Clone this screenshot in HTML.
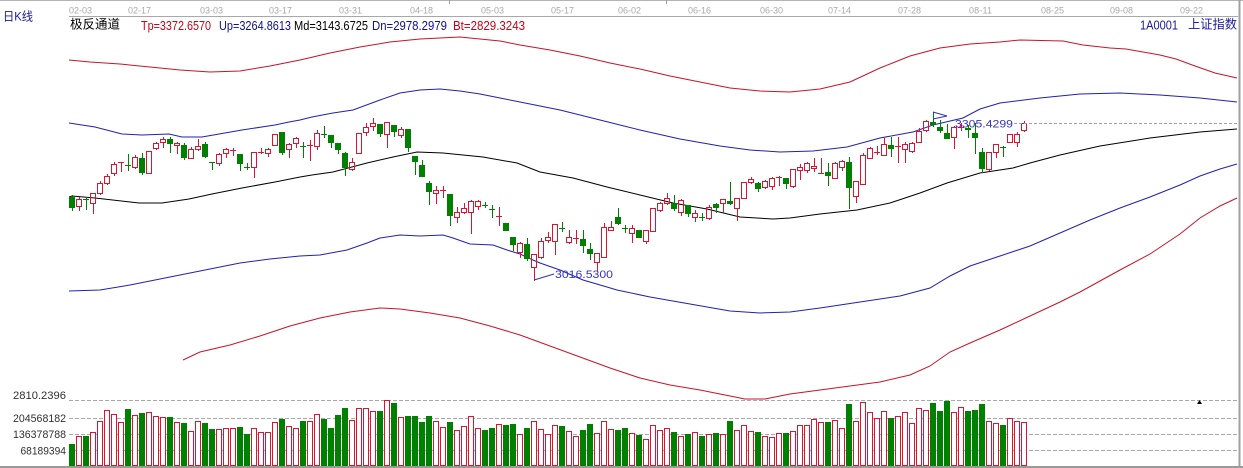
<!DOCTYPE html>
<html><head><meta charset="utf-8"><style>
html,body{margin:0;padding:0;background:#fff;}
svg{display:block;}
.r{fill:none;stroke:#dc1430;stroke-width:1;}
.g{fill:none;stroke:#008000;stroke-width:1;}
.gb{fill:#008000;}
.rv{fill:#fff;stroke:#dc1430;stroke-width:1;}
.gv{fill:#008000;}
.ln{fill:none;stroke-width:1;}
text{font-family:"Liberation Sans","Noto Sans CJK SC",sans-serif;}
</style></head><body>
<svg width="1243" height="468" viewBox="0 0 1243 468" xmlns="http://www.w3.org/2000/svg">
<defs><clipPath id="pc"><rect x="69" y="17" width="1169" height="383"/></clipPath></defs>
<rect x="0" y="0" width="1243" height="468" fill="#fff"/>
<line x1="0" y1="0.5" x2="1243" y2="0.5" stroke="#b4b4b4"/>
<line x1="449.5" y1="0" x2="449.5" y2="4" stroke="#a0a0a0"/>
<line x1="666.5" y1="0" x2="666.5" y2="4" stroke="#a0a0a0"/>
<line x1="69" y1="16.5" x2="1238" y2="16.5" stroke="#a8a8a8"/>
<rect x="1238.5" y="0" width="2" height="468" fill="#a0a0a0"/>
<rect x="0" y="466" width="1243" height="2" fill="#9a9a9a"/>

<g font-size="9" fill="#a8a8a8">
<text x="69" y="13.5" textLength="23">02-03</text>
<text x="128" y="13.5" textLength="23">02-17</text>
<text x="200" y="13.5" textLength="23">03-03</text>
<text x="269" y="13.5" textLength="23">03-17</text>
<text x="339" y="13.5" textLength="23">03-31</text>
<text x="410" y="13.5" textLength="23">04-18</text>
<text x="481" y="13.5" textLength="23">05-03</text>
<text x="551" y="13.5" textLength="23">05-17</text>
<text x="618" y="13.5" textLength="23">06-02</text>
<text x="688" y="13.5" textLength="23">06-16</text>
<text x="760" y="13.5" textLength="23">06-30</text>
<text x="828" y="13.5" textLength="23">07-14</text>
<text x="898" y="13.5" textLength="23">07-28</text>
<text x="969" y="13.5" textLength="23">08-11</text>
<text x="1041" y="13.5" textLength="23">08-25</text>
<text x="1110" y="13.5" textLength="23">09-08</text>
<text x="1180" y="13.5" textLength="23">09-22</text>
</g>

<text x="3" y="20.5" font-size="12" fill="#1818a0" textLength="30" lengthAdjust="spacingAndGlyphs">日K线</text>
<text x="70" y="28.5" font-size="12.5" fill="#000" textLength="50" lengthAdjust="spacingAndGlyphs">极反通道</text>
<g font-size="12.5">
<text x="141" y="30" fill="#c80018" textLength="70" lengthAdjust="spacingAndGlyphs">Tp=3372.6570</text>
<text x="219" y="30" fill="#101090" textLength="72" lengthAdjust="spacingAndGlyphs">Up=3264.8613</text>
<text x="294" y="30" fill="#000" textLength="74" lengthAdjust="spacingAndGlyphs">Md=3143.6725</text>
<text x="372" y="30" fill="#101090" textLength="75" lengthAdjust="spacingAndGlyphs">Dn=2978.2979</text>
<text x="453" y="30" fill="#c80018" textLength="72" lengthAdjust="spacingAndGlyphs">Bt=2829.3243</text>
</g>
<text x="1140" y="29.5" font-size="12.5" fill="#1818a0" textLength="38" lengthAdjust="spacingAndGlyphs">1A0001</text>
<text x="1188" y="28.5" font-size="12.5" fill="#1818a0" textLength="49" lengthAdjust="spacingAndGlyphs">上证指数</text>

<!-- volume grid -->
<g stroke="#a8a8a8" stroke-dasharray="4 2">
<line x1="69" y1="400.5" x2="1238" y2="400.5"/>
<line x1="69" y1="418.5" x2="1238" y2="418.5"/>
<line x1="69" y1="434.5" x2="1238" y2="434.5"/>
<line x1="69" y1="450.5" x2="1238" y2="450.5"/>
</g>
<g font-size="11" fill="#303030">
<text x="13" y="399" textLength="53" lengthAdjust="spacingAndGlyphs">2810.2396</text>
<text x="13" y="422" textLength="53" lengthAdjust="spacingAndGlyphs">204568182</text>
<text x="13" y="438" textLength="53" lengthAdjust="spacingAndGlyphs">136378788</text>
<text x="20.5" y="454.5" textLength="45.5" lengthAdjust="spacingAndGlyphs">68189394</text>
</g>
<polygon points="1197,404 1202,404 1199.5,400" fill="#000"/>

<!-- channel lines -->
<g clip-path="url(#pc)">
<polyline class="ln" stroke="#c81428" points="69,60 90,62 120,64 150,67 180,70 210,72 240,71 270,66 300,60 330,53 360,47 390,42 420,39 440,38 460,37 480,39 500,41 520,45 550,50 580,56 610,63 640,69 670,76 700,82 730,88 760,91 790,92 820,89 850,82 880,68 910,56 940,48 970,44 1000,42 1020,40 1063,41 1083,45 1110,48 1126,49 1143,52 1160,55 1176,59 1195,66 1215,73 1237,78"/>
<polyline class="ln" stroke="#2020b4" points="69,123 95,127 122,134 142,135 169,134 182,137 202,137 242,130 275,125 289,122 300,120 312,117 333,113 353,110 380,100 400,93 420,90 440,89 460,91 480,94 500,98 530,104 560,110 600,120 640,130 680,139 720,146 750,150 780,152 813,151 847,147 880,138 913,132 933,125 963,118 980,109 1000,103 1040,98 1080,94 1120,93 1160,95 1200,98 1237,102"/>
<polyline class="ln" stroke="#000" points="69,197 72,196 95,198 139,203 162,203 189,199 212,194 242,188 275,182 300,177 312,175 333,172 367,163 393,157 417,152 443,153 483,157 517,163 540,172 573,178 607,187 640,195 673,203 707,209 740,217 773,219 790,218 820,214 857,210 890,203 920,193 947,183 980,173 1013,168 1030,163 1060,155 1100,146 1150,138 1200,132 1237,129"/>
<polyline class="ln" stroke="#2020b4" points="69,291 100,290 130,285 160,279 200,271 240,263 270,259 300,256 320,255 347,250 367,243 380,238 400,235 420,236 443,235 453,238 470,244 493,245 507,250 520,254 533,260 540,263 560,270 583,280 607,287 617,290 650,297 690,304 730,311 760,313 790,312 820,308 860,302 900,296 930,288 950,276 970,266 1000,256 1030,246 1060,233 1090,220 1120,208 1150,197 1180,185 1200,176 1220,169 1237,164"/>
<polyline class="ln" stroke="#c81428" points="183,360 200,352 230,345 260,336 290,326 320,318 350,312 380,308 400,309 430,313 460,318 490,326 520,335 550,346 580,357 610,368 640,378 670,385 700,390 730,396 745,399 765,399 790,394 820,390 850,386 880,382 910,375 930,366 950,352 970,343 1000,330 1030,316 1060,302 1080,292 1100,281 1120,270 1150,254 1180,234 1200,218 1220,206 1237,198"/>
</g>

<!-- candles -->
<g shape-rendering="crispEdges">
<g transform="translate(69 0)"><path class="g" d="M3.5 195V211"/><rect class="gb" y="197" width="6" height="11"/></g>
<path class="r" transform="translate(76 0)" d="M3.5 197V199M3.5 207V211M.5 199.5h5v7h-5z"/>
<path class="g" transform="translate(83 0)" d="M3.5 197V210M0 199.5h6"/>
<path class="r" transform="translate(90 0)" d="M3.5 204V214M.5 193.5h5v10h-5z"/>
<path class="r" transform="translate(97 0)" d="M3.5 181V183M3.5 194V195M.5 183.5h5v10h-5z"/>
<path class="r" transform="translate(104 0)" d="M3.5 174V176M3.5 184V185M.5 176.5h5v7h-5z"/>
<path class="r" transform="translate(111 0)" d="M3.5 162V164M3.5 174V176M.5 164.5h5v9h-5z"/>
<path class="r" transform="translate(118 0)" d="M3.5 162V172M0 162.5h6"/>
<path class="g" transform="translate(125 0)" d="M3.5 154V171M0 165.5h6"/>
<path class="r" transform="translate(132 0)" d="M3.5 155V157M3.5 168V169M.5 157.5h5v10h-5z"/>
<g transform="translate(139 0)"><path class="g" d="M3.5 153V175"/><rect class="gb" y="158" width="6" height="15"/></g>
<path class="r" transform="translate(146 0)" d="M.5 151.5h5v22h-5z"/>
<path class="r" transform="translate(153 0)" d="M3.5 142V143M3.5 149V150M.5 143.5h5v5h-5z"/>
<path class="r" transform="translate(160 0)" d="M3.5 137V139M3.5 143V148M.5 139.5h5v3h-5z"/>
<g transform="translate(167 0)"><path class="g" d="M3.5 137V153"/><rect class="gb" y="139" width="6" height="5"/></g>
<path class="r" transform="translate(174 0)" d="M3.5 142V143M3.5 146V154M.5 143.5h5v2h-5z"/>
<g transform="translate(181 0)"><path class="g" d="M3.5 143V160"/><rect class="gb" y="145" width="6" height="13"/></g>
<path class="r" transform="translate(188 0)" d="M3.5 147V149M.5 149.5h5v9h-5z"/>
<path class="r" transform="translate(195 0)" d="M3.5 139V146M3.5 150V151M.5 146.5h5v3h-5z"/>
<g transform="translate(202 0)"><path class="g" d="M3.5 142V158"/><rect class="gb" y="144" width="6" height="13"/></g>
<path class="g" transform="translate(209 0)" d="M3.5 162V170M0 162.5h6"/>
<path class="r" transform="translate(216 0)" d="M3.5 153V154M3.5 164V166M.5 154.5h5v9h-5z"/>
<path class="r" transform="translate(223 0)" d="M3.5 148V149M3.5 154V158M.5 149.5h5v4h-5z"/>
<path class="r" transform="translate(230 0)" d="M3.5 148V156M0 150.5h6"/>
<g transform="translate(237 0)"><path class="g" d="M3.5 154V171"/><rect class="gb" y="154" width="6" height="10"/></g>
<path class="g" transform="translate(244 0)" d="M3.5 163V170M0 167.5h6"/>
<path class="r" transform="translate(251 0)" d="M3.5 168V178M.5 152.5h5v15h-5z"/>
<path class="r" transform="translate(258 0)" d="M3.5 148V154M0 152.5h6"/>
<path class="r" transform="translate(265 0)" d="M3.5 148V149M3.5 154V157M.5 149.5h5v4h-5z"/>
<path class="r" transform="translate(272 0)" d="M.5 134.5h5v11h-5z"/>
<g transform="translate(279 0)"><path class="g" d="M3.5 132V155"/><rect class="gb" y="132" width="6" height="21"/></g>
<path class="r" transform="translate(286 0)" d="M3.5 143V144M3.5 150V158M.5 144.5h5v5h-5z"/>
<path class="r" transform="translate(293 0)" d="M3.5 137V138M3.5 144V148M.5 138.5h5v5h-5z"/>
<path class="g" transform="translate(300 0)" d="M3.5 142V158M0 146.5h6"/>
<path class="r" transform="translate(307 0)" d="M3.5 140V161M0 145.5h6"/>
<path class="r" transform="translate(314 0)" d="M3.5 130V133M3.5 147V150M.5 133.5h5v13h-5z"/>
<path class="g" transform="translate(321 0)" d="M3.5 126V138M0 134.5h6"/>
<g transform="translate(328 0)"><path class="g" d="M3.5 135V148"/><rect class="gb" y="135" width="6" height="8"/></g>
<g transform="translate(335 0)"><path class="g" d="M3.5 143V154"/><rect class="gb" y="143" width="6" height="7"/></g>
<g transform="translate(342 0)"><path class="g" d="M3.5 152V176"/><rect class="gb" y="153" width="6" height="15"/></g>
<path class="r" transform="translate(349 0)" d="M3.5 158V162M3.5 170V171M.5 162.5h5v7h-5z"/>
<path class="r" transform="translate(356 0)" d="M.5 133.5h5v20h-5z"/>
<path class="r" transform="translate(363 0)" d="M3.5 123V127M3.5 133V136M.5 127.5h5v5h-5z"/>
<path class="r" transform="translate(370 0)" d="M3.5 118V123M3.5 127V131M.5 123.5h5v3h-5z"/>
<g transform="translate(377 0)"><path class="g" d="M3.5 124V137"/><rect class="gb" y="124" width="6" height="10"/></g>
<path class="r" transform="translate(384 0)" d="M3.5 135V148M.5 122.5h5v12h-5z"/>
<g transform="translate(391 0)"><path class="g" d="M3.5 125V137"/><rect class="gb" y="125" width="6" height="7"/></g>
<path class="r" transform="translate(398 0)" d="M3.5 127V129M3.5 136V138M.5 129.5h5v6h-5z"/>
<g transform="translate(405 0)"><path class="g" d="M3.5 129V152"/><rect class="gb" y="129" width="6" height="19"/></g>
<g transform="translate(412 0)"><path class="g" d="M3.5 156V175"/><rect class="gb" y="156" width="6" height="6"/></g>
<g transform="translate(419 0)"><path class="g" d="M3.5 160V177"/><rect class="gb" y="165" width="6" height="12"/></g>
<g transform="translate(426 0)"><path class="g" d="M3.5 181V205"/><rect class="gb" y="183" width="6" height="9"/></g>
<path class="r" transform="translate(433 0)" d="M3.5 186V190M3.5 194V204M.5 190.5h5v3h-5z"/>
<path class="r" transform="translate(440 0)" d="M3.5 186V198M0 190.5h6"/>
<g transform="translate(447 0)"><path class="g" d="M3.5 194V226"/><rect class="gb" y="194" width="6" height="22"/></g>
<path class="r" transform="translate(454 0)" d="M3.5 207V212M3.5 218V223M.5 212.5h5v5h-5z"/>
<path class="r" transform="translate(461 0)" d="M3.5 203V208M3.5 213V214M.5 208.5h5v4h-5z"/>
<path class="r" transform="translate(468 0)" d="M3.5 200V201M3.5 213V234M.5 201.5h5v11h-5z"/>
<path class="r" transform="translate(475 0)" d="M3.5 200V201M3.5 207V210M.5 201.5h5v5h-5z"/>
<path class="g" transform="translate(482 0)" d="M3.5 202V208M0 205.5h6"/>
<path class="g" transform="translate(489 0)" d="M3.5 205V218M0 209.5h6"/>
<path class="r" transform="translate(496 0)" d="M3.5 207V226M0 216.5h6"/>
<g transform="translate(503 0)"><path class="g" d="M3.5 223V231"/><rect class="gb" y="223" width="6" height="8"/></g>
<g transform="translate(510 0)"><path class="g" d="M3.5 237V251"/><rect class="gb" y="237" width="6" height="8"/></g>
<path class="r" transform="translate(517 0)" d="M3.5 242V243M3.5 253V258M.5 243.5h5v9h-5z"/>
<g transform="translate(524 0)"><path class="g" d="M3.5 238V261"/><rect class="gb" y="244" width="6" height="15"/></g>
<path class="r" transform="translate(531 0)" d="M3.5 268V281M.5 254.5h5v13h-5z"/>
<path class="r" transform="translate(538 0)" d="M3.5 238V241M3.5 258V259M.5 241.5h5v16h-5z"/>
<path class="r" transform="translate(545 0)" d="M3.5 232V237M3.5 241V243M.5 237.5h5v3h-5z"/>
<path class="r" transform="translate(552 0)" d="M3.5 242V255M.5 224.5h5v17h-5z"/>
<path class="g" transform="translate(559 0)" d="M3.5 222V232M0 228.5h6"/>
<path class="r" transform="translate(566 0)" d="M3.5 230V237M3.5 243V244M.5 237.5h5v5h-5z"/>
<path class="r" transform="translate(573 0)" d="M3.5 230V244M0 238.5h6"/>
<g transform="translate(580 0)"><path class="g" d="M3.5 230V253"/><rect class="gb" y="239" width="6" height="7"/></g>
<g transform="translate(587 0)"><path class="g" d="M3.5 243V260"/><rect class="gb" y="249" width="6" height="5"/></g>
<path class="r" transform="translate(594 0)" d="M3.5 263V271M.5 253.5h5v9h-5z"/>
<path class="r" transform="translate(601 0)" d="M3.5 223V227M.5 227.5h5v30h-5z"/>
<path class="r" transform="translate(608 0)" d="M3.5 221V227M.5 227.5h5v3h-5z"/>
<g transform="translate(615 0)"><path class="g" d="M3.5 208V225"/><rect class="gb" y="217" width="6" height="7"/></g>
<path class="g" transform="translate(622 0)" d="M3.5 225V233M0 228.5h6"/>
<path class="r" transform="translate(629 0)" d="M3.5 225V228M3.5 234V243M.5 228.5h5v5h-5z"/>
<g transform="translate(636 0)"><path class="g" d="M3.5 230V238"/><rect class="gb" y="230" width="6" height="8"/></g>
<path class="r" transform="translate(643 0)" d="M3.5 242V244M.5 230.5h5v11h-5z"/>
<path class="r" transform="translate(650 0)" d="M.5 208.5h5v23h-5z"/>
<path class="r" transform="translate(657 0)" d="M3.5 202V203M3.5 211V212M.5 203.5h5v7h-5z"/>
<path class="r" transform="translate(664 0)" d="M3.5 193V198M3.5 204V205M.5 198.5h5v5h-5z"/>
<g transform="translate(671 0)"><path class="g" d="M3.5 195V211"/><rect class="gb" y="203" width="6" height="6"/></g>
<path class="r" transform="translate(678 0)" d="M3.5 199V200M3.5 213V216M.5 200.5h5v12h-5z"/>
<g transform="translate(685 0)"><path class="g" d="M3.5 205V217"/><rect class="gb" y="205" width="6" height="9"/></g>
<path class="r" transform="translate(692 0)" d="M3.5 210V213M3.5 218V222M.5 213.5h5v4h-5z"/>
<path class="g" transform="translate(699 0)" d="M3.5 213V221M0 217.5h6"/>
<path class="r" transform="translate(706 0)" d="M3.5 205V207M3.5 219V220M.5 207.5h5v11h-5z"/>
<g transform="translate(713 0)"><path class="g" d="M3.5 203V213"/><rect class="gb" y="204" width="6" height="4"/></g>
<path class="r" transform="translate(720 0)" d="M3.5 204V213M.5 199.5h5v4h-5z"/>
<g transform="translate(727 0)"><path class="g" d="M3.5 182V205"/><rect class="gb" y="201" width="6" height="3"/></g>
<path class="r" transform="translate(734 0)" d="M3.5 209V221M.5 198.5h5v10h-5z"/>
<path class="r" transform="translate(741 0)" d="M.5 182.5h5v16h-5z"/>
<path class="r" transform="translate(748 0)" d="M3.5 177V179M3.5 183V184M.5 179.5h5v3h-5z"/>
<g transform="translate(755 0)"><path class="g" d="M3.5 182V192"/><rect class="gb" y="183" width="6" height="6"/></g>
<path class="r" transform="translate(762 0)" d="M3.5 180V181M3.5 188V189M.5 181.5h5v6h-5z"/>
<path class="r" transform="translate(769 0)" d="M3.5 177V178M3.5 187V190M.5 178.5h5v8h-5z"/>
<path class="r" transform="translate(776 0)" d="M3.5 176V186M0 177.5h6"/>
<g transform="translate(783 0)"><path class="g" d="M3.5 178V189"/><rect class="gb" y="178" width="6" height="6"/></g>
<path class="r" transform="translate(790 0)" d="M3.5 187V188M.5 169.5h5v17h-5z"/>
<path class="r" transform="translate(797 0)" d="M3.5 164V167M3.5 171V180M.5 167.5h5v3h-5z"/>
<path class="r" transform="translate(804 0)" d="M3.5 162V163M3.5 171V173M.5 163.5h5v7h-5z"/>
<path class="r" transform="translate(811 0)" d="M3.5 158V166M3.5 169V172M.5 166.5h5v2h-5z"/>
<path class="r" transform="translate(818 0)" d="M3.5 158V174M0 173.5h6"/>
<g transform="translate(825 0)"><path class="g" d="M3.5 163V186"/><rect class="gb" y="172" width="6" height="4"/></g>
<path class="r" transform="translate(832 0)" d="M3.5 162V163M.5 163.5h5v15h-5z"/>
<path class="r" transform="translate(839 0)" d="M3.5 160V161M3.5 168V171M.5 161.5h5v6h-5z"/>
<g transform="translate(846 0)"><path class="g" d="M3.5 157V209"/><rect class="gb" y="162" width="6" height="26"/></g>
<path class="r" transform="translate(853 0)" d="M3.5 197V203M.5 181.5h5v15h-5z"/>
<path class="r" transform="translate(860 0)" d="M3.5 153V155M.5 155.5h5v29h-5z"/>
<path class="r" transform="translate(867 0)" d="M3.5 147V148M.5 148.5h5v10h-5z"/>
<path class="r" transform="translate(874 0)" d="M3.5 146V155M0 152.5h6"/>
<path class="r" transform="translate(881 0)" d="M3.5 138V144M.5 144.5h5v11h-5z"/>
<g transform="translate(888 0)"><path class="g" d="M3.5 137V157"/><rect class="gb" y="145" width="6" height="4"/></g>
<path class="r" transform="translate(895 0)" d="M3.5 137V163M0 146.5h6"/>
<path class="r" transform="translate(902 0)" d="M3.5 142V144M3.5 150V163M.5 144.5h5v5h-5z"/>
<path class="r" transform="translate(909 0)" d="M3.5 142V143M3.5 152V153M.5 143.5h5v8h-5z"/>
<path class="r" transform="translate(916 0)" d="M3.5 128V131M.5 131.5h5v11h-5z"/>
<path class="r" transform="translate(923 0)" d="M3.5 120V121M3.5 131V132M.5 121.5h5v9h-5z"/>
<g transform="translate(930 0)"><path class="g" d="M3.5 112V127"/><rect class="gb" y="122" width="6" height="3"/></g>
<g transform="translate(937 0)"><path class="g" d="M3.5 120V133"/><rect class="gb" y="127" width="6" height="4"/></g>
<g transform="translate(944 0)"><path class="g" d="M3.5 124V139"/><rect class="gb" y="133" width="6" height="6"/></g>
<path class="r" transform="translate(951 0)" d="M3.5 126V127M3.5 138V149M.5 127.5h5v10h-5z"/>
<path class="r" transform="translate(958 0)" d="M3.5 123V131M0 127.5h6"/>
<g transform="translate(965 0)"><path class="g" d="M3.5 125V138"/><rect class="gb" y="128" width="6" height="2"/></g>
<g transform="translate(972 0)"><path class="g" d="M3.5 123V154"/><rect class="gb" y="133" width="6" height="5"/></g>
<g transform="translate(979 0)"><path class="g" d="M3.5 148V173"/><rect class="gb" y="152" width="6" height="17"/></g>
<path class="r" transform="translate(986 0)" d="M3.5 170V171M.5 152.5h5v17h-5z"/>
<path class="r" transform="translate(993 0)" d="M3.5 153V158M.5 144.5h5v8h-5z"/>
<path class="g" transform="translate(1000 0)" d="M3.5 146V157M0 147.5h6"/>
<path class="r" transform="translate(1007 0)" d="M.5 134.5h5v8h-5z"/>
<path class="r" transform="translate(1014 0)" d="M3.5 132V134M3.5 143V147M.5 134.5h5v8h-5z"/>
<path class="r" transform="translate(1021 0)" d="M3.5 121V123M3.5 131V132M.5 123.5h5v7h-5z"/>
</g>

<!-- markers -->
<polyline class="ln" stroke="#3030c0" points="933,112 947,116 933,119"/>
<line x1="1014" y1="123.5" x2="1237" y2="123.5" stroke="#a0a0a0" stroke-dasharray="3 2"/>
<text x="955" y="127.5" font-size="11" fill="#3434c4" textLength="58" lengthAdjust="spacingAndGlyphs">3305.4299</text>
<polyline class="ln" stroke="#3030c0" points="534,280 554,274"/>
<text x="555" y="278" font-size="11" fill="#3434c4" textLength="58" lengthAdjust="spacingAndGlyphs">3016.5300</text>

<!-- volumes -->
<g shape-rendering="crispEdges">
<rect class="gv" x="69" y="444" width="6" height="22"/>
<rect class="rv" x="76.5" y="436.5" width="5" height="29"/>
<rect class="gv" x="83" y="436" width="6" height="30"/>
<rect class="rv" x="90.5" y="432.5" width="5" height="33"/>
<rect class="rv" x="97.5" y="421.5" width="5" height="44"/>
<rect class="rv" x="104.5" y="410.5" width="5" height="55"/>
<rect class="rv" x="111.5" y="414.5" width="5" height="51"/>
<rect class="rv" x="118.5" y="422.5" width="5" height="43"/>
<rect class="gv" x="125" y="409" width="6" height="57"/>
<rect class="rv" x="132.5" y="415.5" width="5" height="50"/>
<rect class="gv" x="139" y="413" width="6" height="53"/>
<rect class="rv" x="146.5" y="412.5" width="5" height="53"/>
<rect class="rv" x="153.5" y="416.5" width="5" height="49"/>
<rect class="rv" x="160.5" y="417.5" width="5" height="48"/>
<rect class="gv" x="167" y="417" width="6" height="49"/>
<rect class="rv" x="174.5" y="422.5" width="5" height="43"/>
<rect class="gv" x="181" y="423" width="6" height="43"/>
<rect class="rv" x="188.5" y="431.5" width="5" height="34"/>
<rect class="rv" x="195.5" y="421.5" width="5" height="44"/>
<rect class="gv" x="202" y="423" width="6" height="43"/>
<rect class="gv" x="209" y="429" width="6" height="37"/>
<rect class="rv" x="216.5" y="429.5" width="5" height="36"/>
<rect class="rv" x="223.5" y="428.5" width="5" height="37"/>
<rect class="rv" x="230.5" y="428.5" width="5" height="37"/>
<rect class="gv" x="237" y="427" width="6" height="39"/>
<rect class="gv" x="244" y="434" width="6" height="32"/>
<rect class="rv" x="251.5" y="428.5" width="5" height="37"/>
<rect class="rv" x="258.5" y="432.5" width="5" height="33"/>
<rect class="rv" x="265.5" y="432.5" width="5" height="33"/>
<rect class="rv" x="272.5" y="422.5" width="5" height="43"/>
<rect class="gv" x="279" y="419" width="6" height="47"/>
<rect class="rv" x="286.5" y="426.5" width="5" height="39"/>
<rect class="rv" x="293.5" y="428.5" width="5" height="37"/>
<rect class="gv" x="300" y="421" width="6" height="45"/>
<rect class="rv" x="307.5" y="421.5" width="5" height="44"/>
<rect class="rv" x="314.5" y="414.5" width="5" height="51"/>
<rect class="gv" x="321" y="419" width="6" height="47"/>
<rect class="gv" x="328" y="428" width="6" height="38"/>
<rect class="gv" x="335" y="415" width="6" height="51"/>
<rect class="gv" x="342" y="408" width="6" height="58"/>
<rect class="rv" x="349.5" y="420.5" width="5" height="45"/>
<rect class="rv" x="356.5" y="408.5" width="5" height="57"/>
<rect class="rv" x="363.5" y="408.5" width="5" height="57"/>
<rect class="rv" x="370.5" y="411.5" width="5" height="54"/>
<rect class="gv" x="377" y="411" width="6" height="55"/>
<rect class="rv" x="384.5" y="400.5" width="5" height="65"/>
<rect class="gv" x="391" y="403" width="6" height="63"/>
<rect class="rv" x="398.5" y="417.5" width="5" height="48"/>
<rect class="gv" x="405" y="416" width="6" height="50"/>
<rect class="gv" x="412" y="416" width="6" height="50"/>
<rect class="gv" x="419" y="422" width="6" height="44"/>
<rect class="gv" x="426" y="416" width="6" height="50"/>
<rect class="rv" x="433.5" y="421.5" width="5" height="44"/>
<rect class="rv" x="440.5" y="427.5" width="5" height="38"/>
<rect class="gv" x="447" y="422" width="6" height="44"/>
<rect class="rv" x="454.5" y="430.5" width="5" height="35"/>
<rect class="rv" x="461.5" y="426.5" width="5" height="39"/>
<rect class="rv" x="468.5" y="416.5" width="5" height="49"/>
<rect class="rv" x="475.5" y="428.5" width="5" height="37"/>
<rect class="gv" x="482" y="430" width="6" height="36"/>
<rect class="gv" x="489" y="428" width="6" height="38"/>
<rect class="rv" x="496.5" y="424.5" width="5" height="41"/>
<rect class="gv" x="503" y="425" width="6" height="41"/>
<rect class="gv" x="510" y="424" width="6" height="42"/>
<rect class="rv" x="517.5" y="434.5" width="5" height="31"/>
<rect class="gv" x="524" y="428" width="6" height="38"/>
<rect class="rv" x="531.5" y="421.5" width="5" height="44"/>
<rect class="rv" x="538.5" y="429.5" width="5" height="36"/>
<rect class="rv" x="545.5" y="434.5" width="5" height="31"/>
<rect class="rv" x="552.5" y="425.5" width="5" height="40"/>
<rect class="gv" x="559" y="426" width="6" height="40"/>
<rect class="rv" x="566.5" y="431.5" width="5" height="34"/>
<rect class="rv" x="573.5" y="436.5" width="5" height="29"/>
<rect class="gv" x="580" y="430" width="6" height="36"/>
<rect class="gv" x="587" y="424" width="6" height="42"/>
<rect class="rv" x="594.5" y="433.5" width="5" height="32"/>
<rect class="rv" x="601.5" y="421.5" width="5" height="44"/>
<rect class="rv" x="608.5" y="429.5" width="5" height="36"/>
<rect class="gv" x="615" y="430" width="6" height="36"/>
<rect class="gv" x="622" y="428" width="6" height="38"/>
<rect class="rv" x="629.5" y="433.5" width="5" height="32"/>
<rect class="gv" x="636" y="435" width="6" height="31"/>
<rect class="rv" x="643.5" y="439.5" width="5" height="26"/>
<rect class="rv" x="650.5" y="425.5" width="5" height="40"/>
<rect class="rv" x="657.5" y="430.5" width="5" height="35"/>
<rect class="rv" x="664.5" y="428.5" width="5" height="37"/>
<rect class="gv" x="671" y="432" width="6" height="34"/>
<rect class="rv" x="678.5" y="436.5" width="5" height="29"/>
<rect class="gv" x="685" y="434" width="6" height="32"/>
<rect class="rv" x="692.5" y="432.5" width="5" height="33"/>
<rect class="gv" x="699" y="436" width="6" height="30"/>
<rect class="rv" x="706.5" y="434.5" width="5" height="31"/>
<rect class="gv" x="713" y="433" width="6" height="33"/>
<rect class="rv" x="720.5" y="434.5" width="5" height="31"/>
<rect class="gv" x="727" y="421" width="6" height="45"/>
<rect class="rv" x="734.5" y="430.5" width="5" height="35"/>
<rect class="rv" x="741.5" y="425.5" width="5" height="40"/>
<rect class="rv" x="748.5" y="431.5" width="5" height="34"/>
<rect class="gv" x="755" y="432" width="6" height="34"/>
<rect class="rv" x="762.5" y="436.5" width="5" height="29"/>
<rect class="rv" x="769.5" y="437.5" width="5" height="28"/>
<rect class="rv" x="776.5" y="433.5" width="5" height="32"/>
<rect class="gv" x="783" y="433" width="6" height="33"/>
<rect class="rv" x="790.5" y="431.5" width="5" height="34"/>
<rect class="rv" x="797.5" y="425.5" width="5" height="40"/>
<rect class="rv" x="804.5" y="425.5" width="5" height="40"/>
<rect class="rv" x="811.5" y="419.5" width="5" height="46"/>
<rect class="rv" x="818.5" y="422.5" width="5" height="43"/>
<rect class="gv" x="825" y="422" width="6" height="44"/>
<rect class="rv" x="832.5" y="420.5" width="5" height="45"/>
<rect class="rv" x="839.5" y="428.5" width="5" height="37"/>
<rect class="gv" x="846" y="404" width="6" height="62"/>
<rect class="rv" x="853.5" y="421.5" width="5" height="44"/>
<rect class="rv" x="860.5" y="402.5" width="5" height="63"/>
<rect class="rv" x="867.5" y="412.5" width="5" height="53"/>
<rect class="rv" x="874.5" y="418.5" width="5" height="47"/>
<rect class="rv" x="881.5" y="411.5" width="5" height="54"/>
<rect class="gv" x="888" y="418" width="6" height="48"/>
<rect class="rv" x="895.5" y="416.5" width="5" height="49"/>
<rect class="rv" x="902.5" y="412.5" width="5" height="53"/>
<rect class="rv" x="909.5" y="423.5" width="5" height="42"/>
<rect class="rv" x="916.5" y="408.5" width="5" height="57"/>
<rect class="rv" x="923.5" y="410.5" width="5" height="55"/>
<rect class="gv" x="930" y="403" width="6" height="63"/>
<rect class="gv" x="937" y="411" width="6" height="55"/>
<rect class="gv" x="944" y="401" width="6" height="65"/>
<rect class="rv" x="951.5" y="412.5" width="5" height="53"/>
<rect class="rv" x="958.5" y="407.5" width="5" height="58"/>
<rect class="gv" x="965" y="411" width="6" height="55"/>
<rect class="gv" x="972" y="410" width="6" height="56"/>
<rect class="gv" x="979" y="404" width="6" height="62"/>
<rect class="rv" x="986.5" y="421.5" width="5" height="44"/>
<rect class="rv" x="993.5" y="423.5" width="5" height="42"/>
<rect class="gv" x="1000" y="425" width="6" height="41"/>
<rect class="rv" x="1007.5" y="418.5" width="5" height="47"/>
<rect class="rv" x="1014.5" y="421.5" width="5" height="44"/>
<rect class="rv" x="1021.5" y="422.5" width="5" height="43"/>
</g>
</svg>
</body></html>
